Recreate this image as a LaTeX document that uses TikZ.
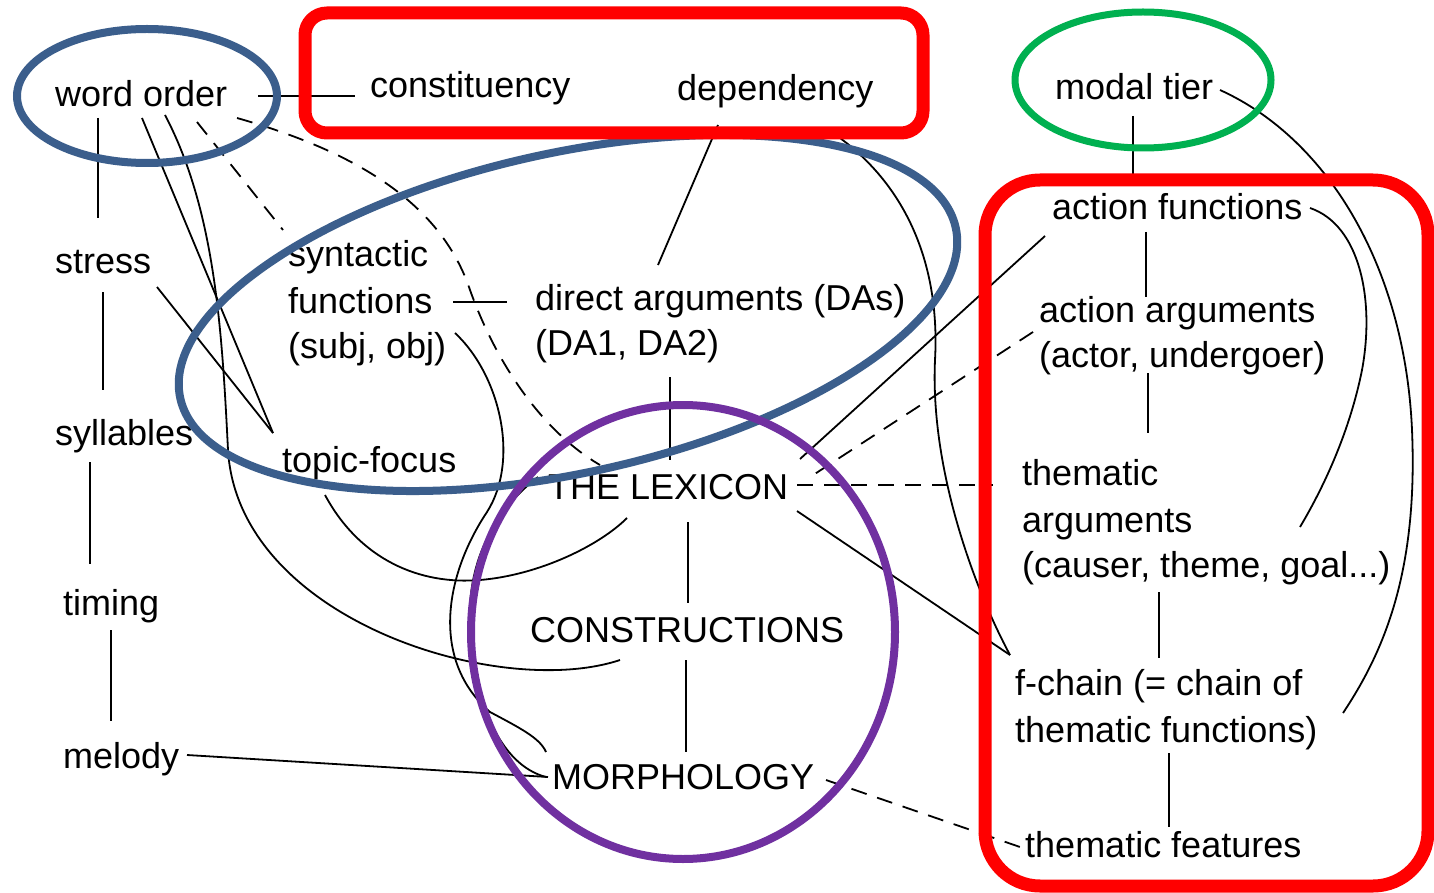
\documentclass[tikz,border=0pt]{standalone}
\usepackage{fontspec}
\setmainfont{Liberation Sans}
\usetikzlibrary{calc}
\definecolor{ringblue}{RGB}{59,94,140}
\definecolor{ringred}{RGB}{255,0,0}
\definecolor{ringgreen}{RGB}{0,176,80}
\definecolor{ringpurple}{RGB}{112,48,160}
\begin{document}
\begin{tikzpicture}[x=1pt,y=-1pt,
  lbl/.style={font=\fontsize{36pt}{43pt}\selectfont, inner sep=0pt, anchor=base west, text=black},
  link/.style={line width=1.8pt, black},
  dlink/.style={link, dash pattern=on 16pt off 11pt},
  ring/.style={line width=8pt},
  frame/.style={line width=13pt, ringred},
]
\fill[white] (0,0) rectangle (1434,893);
\useasboundingbox (0,0) rectangle (1434,893);

% ---- labels ----
\node[lbl] (wo)   at (55,107)   {word order};
\node[lbl] (con)  at (370,98)   {constituency};
\node[lbl] (dep)  at (677,101)  {dependency};
\node[lbl] (mt)   at (1055,100) {modal tier};
\node[lbl] (st)   at (55,273)   {stress};
\node[lbl] (sy)   at (55,445)   {syllables};
\node[lbl] (ti)   at (63,615)   {timing};
\node[lbl] (me)   at (63,768)   {melody};
\node[lbl] (sfa)  at (288,267)  {syntactic};
\node[lbl] (sfb)  at (288,313)  {functions};
\node[lbl] (sfc)  at (288,358)  {(subj, obj)};
\node[lbl] (tf)   at (282,472)  {topic-focus};
\node[lbl] (daa)  at (535,310)  {direct arguments (DAs)};
\node[lbl] (dab)  at (535,355)  {(DA1, DA2)};
\node[lbl] (lex)  at (548,499)  {THE LEXICON};
\node[lbl] (cons) at (530,642)  {CONSTRUCTIONS};
\node[lbl] (mor)  at (552,789)  {MORPHOLOGY};
\node[lbl] (af)   at (1052,220) {action functions};
\node[lbl] (aaa)  at (1039,322) {action arguments};
\node[lbl] (aab)  at (1039,367) {(actor, undergoer)};
\node[lbl] (taa)  at (1022,485) {thematic};
\node[lbl] (tab)  at (1022,532) {arguments};
\node[lbl] (tac)  at (1022,577) {(causer, theme, goal...)};
\node[lbl] (fca)  at (1015,695) {f-chain (= chain of};
\node[lbl] (fcb)  at (1015,742) {thematic functions)};
\node[lbl] (tfe)  at (1025,857) {thematic features};

% ---- straight links ----
\draw[link] ($(wo.base west)+(203,-11)$) -- ($(con.base west)+(-15,-2)$);
\draw[link] ($(wo.base west)+(43,11)$) -- ($(st.base west)+(43,-55)$);
\draw[link] ($(st.base west)+(48,19)$) -- ($(sy.base west)+(48,-55)$);
\draw[link] ($(sy.base west)+(35,17)$) -- ($(ti.base west)+(27,-51)$);
\draw[link] ($(ti.base west)+(48,15)$) -- ($(me.base west)+(48,-47)$);
\draw[link] ($(me.base west)+(124,-13)$) -- ($(mor.base west)+(-4,-12)$);
\draw[link] ($(wo.base west)+(87,11)$) -- ($(tf.base west)+(-9,-39)$);
\draw[link] ($(st.base west)+(102,14)$) -- ($(tf.base west)+(-9,-39)$);
\draw[link] ($(sfb.base west)+(165,-11)$) -- ($(daa.base west)+(-28,-8)$);
\draw[link] ($(dep.base west)+(41,24)$) -- ($(daa.base west)+(123,-45)$);
\draw[link] ($(dab.base west)+(135,22)$) -- ($(lex.base west)+(122,-39)$);
\draw[link] ($(lex.base west)+(140,23)$) -- ($(cons.base west)+(158,-39)$);
\draw[link] ($(cons.base west)+(156,18)$) -- ($(mor.base west)+(134,-37)$);
\draw[link] ($(lex.base west)+(249,12)$) -- ($(fca.base west)+(-5,-40)$);
\draw[link] ($(af.base west)+(-7,16)$) -- ($(lex.base west)+(252,-40)$);
\draw[link] ($(mt.base west)+(78,16)$) -- ($(af.base west)+(81,-34)$);
\draw[link] ($(af.base west)+(94,12)$) -- ($(aaa.base west)+(107,-25)$);
\draw[link] ($(aab.base west)+(109,6)$) -- ($(taa.base west)+(126,-52)$);
\draw[link] ($(tac.base west)+(137,15)$) -- ($(fca.base west)+(144,-37)$);
\draw[link] ($(fcb.base west)+(154,11)$) -- ($(tfe.base west)+(144,-30)$);

% ---- dashed links ----
\draw[dlink] ($(wo.base west)+(142,15)$) -- ($(sfa.base west)+(-5,-37)$);
\draw[dlink] ($(wo.base west)+(182,11)$) .. controls (350,150) and (440,200) .. (470,290)
  .. controls (495,360) and (540,430) .. ($(lex.base west)+(52,-34)$);
\draw[dlink] ($(mor.base west)+(274,-9)$) -- ($(tfe.base west)+(-5,-10)$);
\draw[dlink] ($(aaa.base west)+(-6,10)$) -- ($(lex.base west)+(259,-20)$);
\draw[dlink] ($(lex.base west)+(249,-14)$) -- ($(taa.base west)+(-29,0)$);

% ---- curved links ----
\draw[link] ($(wo.base west)+(110,8)$) .. controls (215,210) and (222,330) .. (228,450)
  .. controls (238,620) and (500,700) .. ($(cons.base west)+(90,18)$);
\draw[link] ($(sfc.base west)+(167,-25)$) .. controls (500,375) and (520,460) .. (487,512)
  .. controls (445,575) and (430,660) .. (490,712)
  .. controls (520,728) and (540,738) .. ($(mor.base west)+(-6,-37)$);
\draw[link] ($(lex.base west)+(-10,-22)$) .. controls (495,510) and (468,560) .. (470,620)
  .. controls (472,700) and (500,765) .. ($(mor.base west)+(-6,-12)$);
\draw[link] ($(tf.base west)+(43,23)$) .. controls (360,560) and (420,585) .. (480,580)
  .. controls (540,575) and (600,545) .. ($(lex.base west)+(79,19)$);
\draw[link] ($(dep.base west)+(163,37)$) .. controls (910,190) and (940,270) .. (935,360)
  .. controls (930,470) and (975,590) .. ($(fca.base west)+(-5,-40)$);
\draw[link] ($(mt.base west)+(165,-10)$) .. controls (1330,140) and (1405,270) .. (1412,430)
  .. controls (1418,570) and (1385,650) .. ($(fca.base west)+(328,18)$);
\draw[link] ($(af.base west)+(258,-12)$) .. controls (1360,225) and (1375,300) .. (1362,370)
  .. controls (1350,430) and (1325,485) .. ($(tab.base west)+(278,-5)$);

% ---- highlighting rings and frames ----
\draw[ring, ringblue] (147,96) ellipse [x radius=130pt, y radius=67pt];
\draw[ring, ringblue, rotate around={12.4:(568,313)}] (568,313) ellipse [x radius=397pt, y radius=160pt];
\draw[ring, ringpurple] (683,632) ellipse [x radius=212pt, y radius=227pt];
\draw[ring, ringgreen, line width=7pt] (1143,80) ellipse [x radius=128pt, y radius=68pt];
\draw[frame, rounded corners=22pt] (305,13) rectangle (923,133);
\draw[frame, rounded corners=55pt] (985,180) rectangle (1428,886);
\end{tikzpicture}
\end{document}
